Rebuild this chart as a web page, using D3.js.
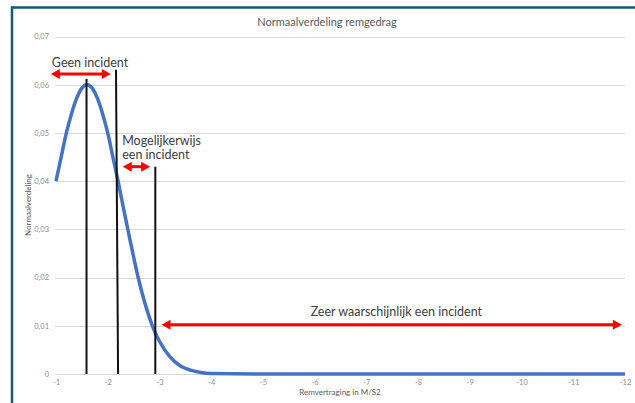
<!DOCTYPE html>
<html>
<head>
<meta charset="utf-8">
<script src="https://cdn.jsdelivr.net/npm/d3@7"></script>
<style>
  html, body { margin: 0; padding: 0; background: #fff; }
  svg { display: block; }
  text { font-family: Lato, "Open Sans", sans-serif; }
</style>
</head>
<body>
<script>
// ---- data ----
const curveX = [-1.0,-1.1,-1.2,-1.3,-1.4,-1.5,-1.6,-1.7,-1.8,-1.9,-2.0,-2.1,-2.2,-2.3,-2.4,-2.5,-2.6,-2.7,-2.8,-2.9,-3.0,-3.2,-3.4,-3.6,-3.8,-4.0,-5,-6,-7,-8,-9,-10,-11,-12];
const curveY = [0.0400,0.0450,0.0500,0.0540,0.0572,0.0593,0.0600,0.0593,0.0572,0.0540,0.0500,0.0450,0.0400,0.0346,0.0294,0.0243,0.0195,0.0154,0.0119,0.0090,0.0068,0.0036,0.0017,0.0008,0.0003,0.0001,0,0,0,0,0,0,0,0];
const xTicks = [-1,-2,-3,-4,-5,-6,-7,-8,-9,-10,-11,-12];
const yTicks = [0,0.01,0.02,0.03,0.04,0.05,0.06,0.07];
const yTickLabels = ["0","0,01","0,02","0,03","0,04","0,05","0,06","0,07"];
// vertical markers: [xTop, xBottom, yTop]
const markerXTop = [-1.59,-2.16,-2.92];
const markerXBottom = [-1.59,-2.20,-2.92];
const markerYTop = [0.0612,0.0631,0.0430];
// red double arrows: [x1, x2, y]
const arrowX1 = [-0.90,-2.29,-3.04];
const arrowX2 = [-2.06,-2.82,-11.94];
const arrowY = [0.0622,0.0430,0.0102];
const labelText = ["Geen incident","Mogelijkerwijs","een incident","Zeer waarschijnlijk een incident"];
const labelX = [-0.92,-2.28,-2.28,-7.58];
const labelY = [0.0637,0.0476,0.0445,0.0121];
const labelAnchor = ["start","start","start","middle"];
const title = "Normaalverdeling remgedrag";
const xTitle = "Remvertraging in M/S2";
const yTitle = "Normaalverdeling";

// ---- chart ----
const W = 635, H = 403;
const svg = d3.select("body").append("svg").attr("width", W).attr("height", H);
svg.append("rect").attr("width", W).attr("height", H).attr("fill", "#fff");

// frame
svg.append("line").attr("x1", 12).attr("x2", W).attr("y1", 7.5).attr("y2", 7.5)
  .attr("stroke", "#0f5a7e").attr("stroke-width", 2.5);
svg.append("line").attr("x1", 12).attr("x2", 12).attr("y1", 6.3).attr("y2", H)
  .attr("stroke", "#0f5a7e").attr("stroke-width", 2.5);

const x = d3.scaleLinear().domain([-1, -12]).range([56, 625]);
const y = d3.scaleLinear().domain([0, 0.07]).range([374, 36.5]);

// gridlines
svg.append("g").selectAll("line").data(yTicks).join("line")
  .attr("x1", 55).attr("x2", 625)
  .attr("y1", d => Math.round(y(d)) + 0.5).attr("y2", d => Math.round(y(d)) + 0.5)
  .attr("stroke", "#d9d9d9").attr("stroke-width", 1);

// y axis labels
const yAxis = d3.axisLeft(y).tickValues(yTicks).tickSize(0).tickPadding(0)
  .tickFormat((d, i) => yTickLabels[i]);
const gy = svg.append("g").attr("transform", "translate(49,0)").call(yAxis);
gy.select(".domain").remove();
gy.selectAll("text").attr("fill", "#8c8c8c").style("font-size", "7.5px")
  .style("font-family", "Lato, sans-serif");

// x axis labels
const xAxis = d3.axisBottom(x).tickValues(xTicks).tickSize(0).tickPadding(0)
  .tickFormat(d => d3.format("d")(d).replace("−", "-"));
const gx = svg.append("g").attr("transform", "translate(0,380)").call(xAxis);
gx.select(".domain").remove();
gx.selectAll("text").attr("fill", "#8c8c8c").style("font-size", "7.5px")
  .style("font-family", "Lato, sans-serif");

// curve
const pts = curveX.map((v, i) => [v, curveY[i]]);
svg.append("path").datum(pts)
  .attr("d", d3.line().x(d => x(d[0])).y(d => y(d[1])).curve(d3.curveMonotoneX))
  .attr("fill", "none").attr("stroke", "#4472c4").attr("stroke-width", 3.5)
  .attr("stroke-linejoin", "round");

// vertical markers
svg.append("g").selectAll("line").data(markerXTop).join("line")
  .attr("x1", (d, i) => x(d)).attr("x2", (d, i) => x(markerXBottom[i]))
  .attr("y1", (d, i) => y(markerYTop[i])).attr("y2", y(0))
  .attr("stroke", "#111").attr("stroke-width", 2);

// red arrows
const headL = 9, headW = 5;
const ag = svg.append("g");
arrowX1.forEach((v, i) => {
  const xa = x(v), xb = x(arrowX2[i]), yy = y(arrowY[i]);
  ag.append("line").attr("x1", xa + headL - 1).attr("x2", xb - headL + 1)
    .attr("y1", yy).attr("y2", yy).attr("stroke", "#ff0000").attr("stroke-width", 3);
  ag.append("path").attr("d", `M${xa},${yy} L${xa + headL},${yy - headW} L${xa + headL},${yy + headW} Z`)
    .attr("fill", "#ff0000");
  ag.append("path").attr("d", `M${xb},${yy} L${xb - headL},${yy - headW} L${xb - headL},${yy + headW} Z`)
    .attr("fill", "#ff0000");
});

// annotation labels
svg.append("g").selectAll("text").data(labelText).join("text")
  .attr("x", (d, i) => x(labelX[i])).attr("y", (d, i) => y(labelY[i]))
  .attr("text-anchor", (d, i) => labelAnchor[i])
  .attr("fill", "#404040").style("font-size", "12.5px")
  .text(d => d);

// titles
svg.append("text").attr("x", 327).attr("y", 25.5).attr("text-anchor", "middle")
  .attr("fill", "#595959").style("font-size", "11px").text(title);
svg.append("text").attr("x", 340).attr("y", 395).attr("text-anchor", "middle")
  .attr("fill", "#595959").style("font-size", "8px").text(xTitle);
svg.append("text").attr("transform", "translate(31,205) rotate(-90)").attr("text-anchor", "middle")
  .attr("fill", "#595959").style("font-size", "8px").text(yTitle);
</script>
</body>
</html>
